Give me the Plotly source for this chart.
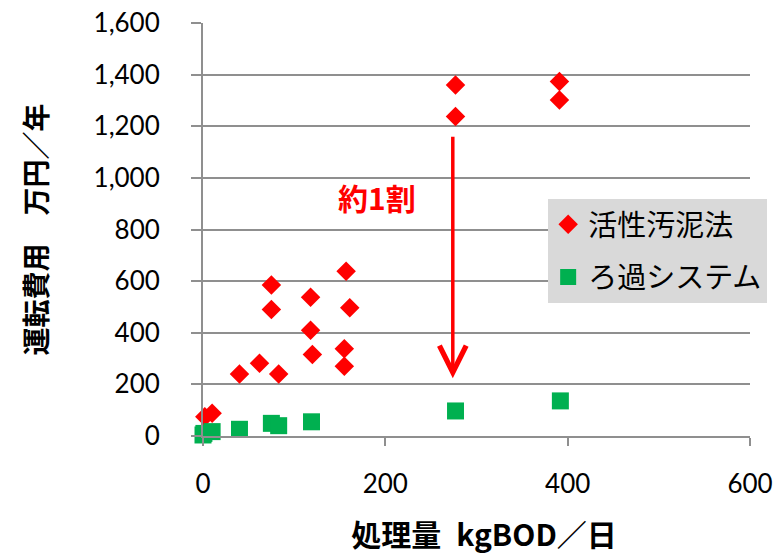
import plotly.graph_objects as go

# 活性汚泥法: 処理量 (kgBOD/日) と運転費用 (万円/年)
as_load = [2, 10, 40, 62, 75, 75, 83, 118, 118, 120, 155, 155, 157, 161, 277, 277, 391, 391]
as_cost = [75, 88, 240, 282, 585, 490, 240, 538, 410, 316, 338, 270, 638, 497, 1360, 1238, 1373, 1302]

# ろ過システム
fs_load = [0, 1, 10, 40, 75, 83, 119, 277, 392]
fs_cost = [4, 10, 17, 26, 49, 40, 55, 97, 136]

# 「約1割」の矢印 (上端と先端の値)
arrow_x = 274
arrow_top = 1165
arrow_tip = 224
note_text = "約1割"
note_pos = (191, 926)

y_ticks = [0, 200, 400, 600, 800, 1000, 1200, 1400, 1600]
x_ticks = [0, 200, 400, 600]

JP = "Noto Sans CJK JP"
NUM = "Lato"
GRID = "#8f8f8f"

fig = go.Figure()
fig.add_trace(go.Scatter(
    x=as_load, y=as_cost, mode="markers", name="活性汚泥法",
    legendgroup="a", cliponaxis=False,
    marker=dict(symbol="diamond", size=15, color="#ff0000"),
))
fig.add_trace(go.Scatter(
    x=fs_load, y=fs_cost, mode="markers", name="ろ過システム",
    legendgroup="b", cliponaxis=False,
    marker=dict(symbol="square", size=17, color="#00b050"),
))

fig.add_annotation(
    x=arrow_x, y=arrow_tip, ax=arrow_x, ay=arrow_top,
    xref="x", yref="y", axref="x", ayref="y",
    text="", showarrow=True, arrowhead=5, arrowsize=1.5,
    arrowwidth=3.5, arrowcolor="#ff0000",
)
fig.add_annotation(
    x=note_pos[0], y=note_pos[1], xref="x", yref="y",
    text=f"<b>{note_text}</b>", showarrow=False,
    font=dict(family=JP, size=30, color="#ff0000"),
)

fig.update_layout(
    width=776, height=555,
    margin=dict(l=203, r=26, t=23, b=119, autoexpand=False),
    plot_bgcolor="white", paper_bgcolor="white",
    showlegend=True,
    legend=dict(
        x=0.631, y=0.574, xanchor="left", yanchor="top",
        bgcolor="#d9d9d9", font=dict(family=JP, size=29, color="black"),
        traceorder="grouped", tracegroupgap=12,
    ),
    xaxis=dict(
        range=[0, 600], tickvals=x_ticks, showgrid=False, zeroline=False,
        automargin=False,
        showline=True, linecolor=GRID, linewidth=2,
        ticks="outside", ticklen=8, tickwidth=2, tickcolor=GRID,
        ticklabelstandoff=16,
        tickfont=dict(family=NUM, size=26, color="black"),
        title=dict(text="<b>\u2002処理量\u2002kgBOD／日</b>", standoff=50,
                   font=dict(family=JP, size=30, color="black")),
    ),
    yaxis=dict(
        range=[0, 1600], tickvals=y_ticks, tickformat=",d",
        automargin=False,
        showgrid=True, gridcolor=GRID, gridwidth=2, zeroline=False,
        showline=True, linecolor=GRID, linewidth=2,
        ticks="outside", ticklen=10, tickwidth=2, tickcolor=GRID,
        ticklabelstandoff=26,
        tickfont=dict(family=NUM, size=26, color="black"),
        title=dict(text="<b>運転費用　万円／年</b>", standoff=38,
                   font=dict(family=JP, size=28, color="black")),
    ),
)

fig.write_html("out.html")
